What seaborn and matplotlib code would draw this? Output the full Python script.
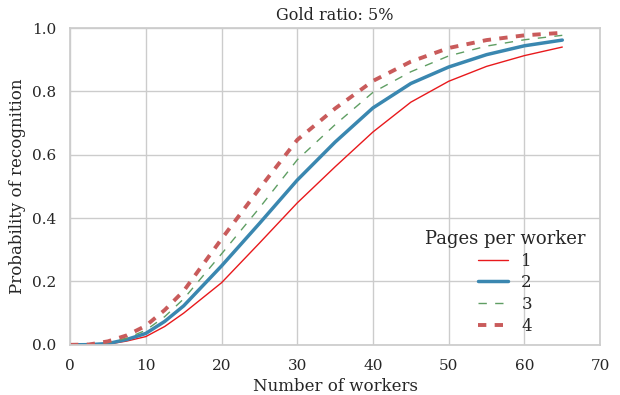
import matplotlib
matplotlib.use("Agg")
import matplotlib.pyplot as plt
import seaborn as sns
import pandas as pd

# values (probability vs number of workers)
workers = [0, 2.5, 5, 7.5, 10, 12.5, 15, 20, 25, 30, 35, 40, 45, 50, 55, 60, 65]
pages_1 = [0.0, 0.0005, 0.002, 0.012, 0.026, 0.058, 0.10, 0.196, 0.321, 0.448, 0.562, 0.672, 0.766, 0.832, 0.879, 0.913, 0.94]
pages_2 = [0.0, 0.0006, 0.004, 0.017, 0.036, 0.074, 0.123, 0.249, 0.383, 0.52, 0.64, 0.748, 0.825, 0.877, 0.916, 0.944, 0.962]
pages_3 = [0.0, 0.0008, 0.007, 0.021, 0.046, 0.089, 0.145, 0.287, 0.432, 0.584, 0.695, 0.797, 0.862, 0.912, 0.943, 0.963, 0.977]
pages_4 = [0.0, 0.001, 0.011, 0.03, 0.06, 0.11, 0.17, 0.334, 0.493, 0.647, 0.746, 0.833, 0.894, 0.937, 0.962, 0.977, 0.985]
series_labels = ["1", "2", "3", "4"]

colors = ["#e8191c", "#3a87b0", "#5f9e63", "#c95b5b"]
widths = [1.0, 2.5, 1.0, 2.8]
styles = ["-", "-", (0, (6, 6)), (0, (6, 6))]

sns.set_theme(style="whitegrid")
plt.rcParams["font.family"] = ["DejaVu Serif"]
plt.rcParams["lines.scale_dashes"] = False  # fixed-length dashes like old matplotlib

fig = plt.figure(figsize=(6.2, 3.95), dpi=100)
ax = fig.add_axes([0.113, 0.127, 0.855, 0.802])

for label, vals, c, lw, ls in zip(series_labels, [pages_1, pages_2, pages_3, pages_4],
                                  colors, widths, styles):
    df = pd.DataFrame({"workers": workers, "prob": vals})
    sns.lineplot(data=df, x="workers", y="prob", ax=ax, color=c,
                 linewidth=lw, linestyle=ls, label=label)

ax.set_xlim(0, 70)
ax.set_ylim(0, 1.0)
ax.set_xticks(range(0, 71, 10))
ax.set_yticks([0.0, 0.2, 0.4, 0.6, 0.8, 1.0])
ax.tick_params(labelsize=11, colors="#262626", pad=4)
ax.set_xlabel("Number of workers", fontsize=12, color="#262626")
ax.set_ylabel("Probability of recognition", fontsize=12, color="#262626")
ax.set_title("Gold ratio: 5%", fontsize=11.5, color="#262626")
ax.grid(color="#cccccc", linewidth=1)
for s in ax.spines.values():
    s.set_color("#cccccc")

leg = ax.legend(title="Pages per worker", loc="lower right", frameon=False,
                fontsize=12, title_fontsize=13, labelspacing=0.28,
                handlelength=1.8, bbox_to_anchor=(1.0, -0.015))

fig.savefig("out.png", dpi=100)
